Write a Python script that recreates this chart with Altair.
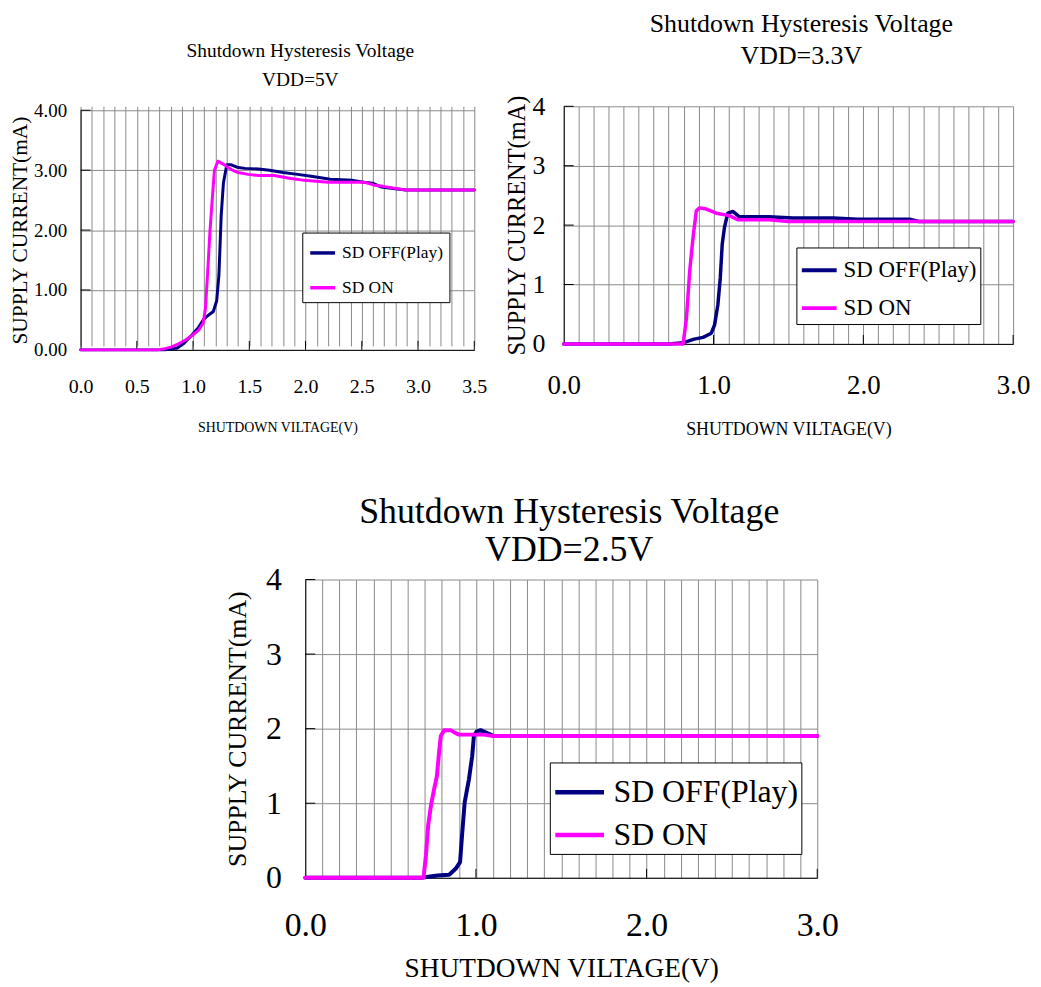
import altair as alt
import pandas as pd

OFF = "SD OFF(Play)"
ON = "SD ON"
NAVY = "#000080"
MAGENTA = "#FF00FF"
GRID = "#8a8a8a"
FONT = "Liberation Serif"
TITLE_1 = "Shutdown Hysteresis Voltage"
X_TITLE = "SHUTDOWN VILTAGE(V)"
Y_TITLE = "SUPPLY CURRENT(mA)"

# ---------------- VDD = 5V ----------------
v_off_5 = [0, 0.75, 0.86, 0.92, 0.99, 1.05, 1.09, 1.13, 1.18, 1.21, 1.23, 1.25, 1.27, 1.30, 1.34,
           1.39, 1.46, 1.58, 1.68, 1.80, 1.93, 2.05, 2.22, 2.42, 2.52, 2.60, 2.67, 2.89, 3.5]
c_off_5 = [0, 0, 0.03, 0.11, 0.25, 0.38, 0.50, 0.57, 0.64, 0.82, 1.25, 2.24, 2.79, 3.09, 3.09,
           3.05, 3.03, 3.02, 3.00, 2.96, 2.93, 2.90, 2.85, 2.83, 2.80, 2.78, 2.72, 2.67, 2.67]
v_on_5 = [0, 0.68, 0.75, 0.81, 0.87, 0.93, 0.99, 1.05, 1.09, 1.11, 1.13, 1.15, 1.17, 1.19, 1.22,
          1.26, 1.30, 1.35, 1.40, 1.49, 1.58, 1.72, 1.87, 1.99, 2.20, 2.52, 2.61, 2.69, 2.89, 3.5]
c_on_5 = [0, 0, 0.02, 0.05, 0.10, 0.16, 0.24, 0.33, 0.45, 0.69, 1.30, 1.97, 2.50, 3.00, 3.15,
          3.11, 3.06, 3.00, 2.96, 2.93, 2.91, 2.91, 2.86, 2.83, 2.80, 2.80, 2.75, 2.73, 2.67, 2.67]

# ---------------- VDD = 3.3V ----------------
v_off_33 = [0, 0.70, 0.80, 0.87, 0.93, 0.985, 1.007, 1.029, 1.045, 1.058, 1.073, 1.095, 1.129,
            1.173, 1.37, 1.53, 1.80, 1.96, 2.31, 2.37, 3.0]
c_off_33 = [0, 0, 0.02, 0.08, 0.11, 0.18, 0.32, 0.66, 1.11, 1.68, 1.96, 2.20, 2.23,
            2.14, 2.14, 2.12, 2.12, 2.10, 2.10, 2.06, 2.06]
v_on_33 = [0, 0.797, 0.819, 0.841, 0.863, 0.885, 0.907, 0.952, 1.018, 1.106, 1.162, 1.37, 1.50, 3.0]
c_on_33 = [0, 0, 0.43, 1.23, 1.79, 2.24, 2.29, 2.27, 2.20, 2.16, 2.09, 2.09, 2.06, 2.06]

# ---------------- VDD = 2.5V ----------------
v_off_25 = [0, 0.60, 0.677, 0.775, 0.843, 0.881, 0.907, 0.92, 0.934, 0.959, 0.978, 0.988,
            1.004, 1.027, 1.066, 1.105, 3.0]
c_off_25 = [0, 0, 0, 0.03, 0.04, 0.12, 0.21, 0.61, 1.01, 1.32, 1.63, 1.90,
            1.96, 1.98, 1.94, 1.90, 1.90]
v_on_25 = [0, 0.693, 0.707, 0.72, 0.736, 0.755, 0.771, 0.784, 0.794, 0.814, 0.852, 0.881,
           0.901, 1.047, 1.105, 3.0]
c_on_25 = [0, 0, 0.30, 0.70, 0.96, 1.19, 1.36, 1.68, 1.90, 1.98, 1.98, 1.94,
           1.92, 1.92, 1.90, 1.90]

y_ticks = [0, 1, 2, 3, 4]
x_major_5 = [0.5, 1.0, 1.5, 2.0, 2.5, 3.0, 3.5]
x_major_3 = [1.0, 2.0, 3.0]


def make_df(v_off, c_off, v_on, c_on):
    return pd.DataFrame({
        "v": v_off + v_on,
        "c": c_off + c_on,
        "s": [OFF] * len(v_off) + [ON] * len(v_on),
        "i": list(range(len(v_off))) + list(range(len(v_on))),
    })


def panel(df, xmax, label_step10, yfmt, W, H, inset, x_major, st):
    xs = alt.Scale(domain=[0, xmax], nice=False, zero=True)
    ys = alt.Scale(domain=[0, 4], nice=False, range=[H, inset])
    grid_vals = [round(k * 0.1, 1) for k in range(int(round(xmax * 10)) + 1)]
    xaxis = alt.Axis(
        values=grid_vals,
        labelExpr=f"round(datum.value*10) % {label_step10} == 0 ? format(datum.value, '.1f') : ''",
        ticks=False, grid=True, gridColor=GRID, gridWidth=1,
        domainColor="black", domainWidth=1,
        labelFont=FONT, labelFontSize=st["xl"], labelColor="black",
        labelPadding=st["xlp"], labelFlush=False, labelOverlap=False,
        title=X_TITLE, titleFont=FONT, titleFontSize=st["xt"], titleFontWeight="normal",
        titleColor="black", titlePadding=st["xtp"],
    )
    yaxis = alt.Axis(
        values=y_ticks, format=yfmt,
        ticks=False, grid=True, gridColor=GRID, gridWidth=1,
        domainColor="black", domainWidth=1,
        labelFont=FONT, labelFontSize=st["yl"], labelColor="black",
        labelPadding=st["ylp"], labelFlush=False, labelOverlap=False,
        title=Y_TITLE, titleFont=FONT, titleFontSize=st["yt"], titleFontWeight="normal",
        titleColor="black", titlePadding=st["ytp"],
    )
    x_enc = alt.X("v:Q", scale=xs, axis=xaxis)
    y_enc = alt.Y("c:Q", scale=ys, axis=yaxis)
    color = alt.Color(
        "s:N",
        scale=alt.Scale(domain=[OFF, ON], range=[NAVY, MAGENTA]),
        legend=alt.Legend(
            title=None, orient="none", legendX=st["lx"], legendY=st["ly"],
            direction="vertical", fillColor="white", strokeColor="black",
            padding=st["lpad"], symbolType="stroke", symbolSize=st["ls"],
            symbolStrokeWidth=st["sw"] + 0.5, labelFont=FONT, labelFontSize=st["lf"],
            labelColor="black", labelLimit=500, rowPadding=st["lrp"], labelOffset=st["lo"],
        ),
    )
    xt = alt.Chart(pd.DataFrame({"v": x_major})).mark_rule(color="black", strokeWidth=1).encode(
        x=x_enc, y=alt.value(H), y2=alt.value(H - 9))
    yt = alt.Chart(pd.DataFrame({"c": y_ticks[1:]})).mark_rule(color="black", strokeWidth=1).encode(
        y=y_enc, x=alt.value(0), x2=alt.value(10))
    lines = []
    for name in [OFF, ON]:
        lines.append(
            alt.Chart(df).transform_filter(alt.datum.s == name)
            .mark_line(strokeWidth=st["sw"], strokeJoin="round", strokeCap="round")
            .encode(x=x_enc, y=y_enc, color=color, order="i:Q")
        )
    return alt.layer(xt, yt, *lines).properties(
        width=W, height=H,
        title=alt.TitleParams(
            text=[TITLE_1, st["vdd"]], font=FONT, fontSize=st["tf"], fontWeight="normal",
            color="black", anchor="middle", dx=st["tdx"], offset=st["toff"],
            lineHeight=st["tlh"],
        ),
    )


p1 = panel(make_df(v_off_5, c_off_5, v_on_5, c_on_5), 3.5, 5, ".2f", 396, 245, 4, x_major_5,
           dict(xl=20, xlp=27, xt=14, xtp=24, yl=19, ylp=14, yt=21.5, ytp=2,
                lx=223, ly=127, lpad=6, ls=625, sw=3, lf=17.5, lrp=12, lo=5,
                vdd="VDD=5V", tf=19.5, tdx=23, toff=10.5, tlh=30))
p2 = panel(make_df(v_off_33, c_off_33, v_on_33, c_on_33), 3.0, 10, "d", 452, 239, 0, x_major_3,
           dict(xl=27, xlp=29, xt=18, xtp=22, yl=26, ylp=19, yt=24.5, ytp=2,
                lx=234, ly=142, lpad=3.5, ls=1225, sw=3.5, lf=23, lrp=6, lo=5,
                vdd="VDD=3.3V", tf=26, tdx=13, toff=24.5, tlh=32))
p3 = panel(make_df(v_off_25, c_off_25, v_on_25, c_on_25), 3.0, 10, "d", 515, 300, 0, x_major_3,
           dict(xl=34, xlp=31, xt=27.5, xtp=12, yl=32, ylp=24, yt=26, ytp=15,
                lx=246, ly=184, lpad=3, ls=2401, sw=4, lf=32, lrp=-4, lo=7,
                vdd="VDD=2.5V", tf=36, tdx=8, toff=-5, tlh=38))

spacer = alt.Chart(pd.DataFrame({"z": [0]})).mark_point(opacity=0).encode(
    x=alt.value(0), y=alt.value(0)).properties(width=1, height=300)

top = alt.hconcat(p1, p2, spacing=90, bounds="flush").resolve_scale(
    color="independent").resolve_legend(color="independent")
bottom = alt.hconcat(spacer, p3, spacing=225, bounds="flush").resolve_scale(
    color="independent").resolve_legend(color="independent")

chart = alt.vconcat(top, bottom, spacing=476, bounds="flush").resolve_scale(
    color="independent").resolve_legend(color="independent").properties(
    padding={"left": 1, "top": 0, "right": 2, "bottom": 5},
    background="white",
).configure_view(stroke="transparent")

chart.save("out.html", embed_options={"renderer": "svg", "actions": False})
